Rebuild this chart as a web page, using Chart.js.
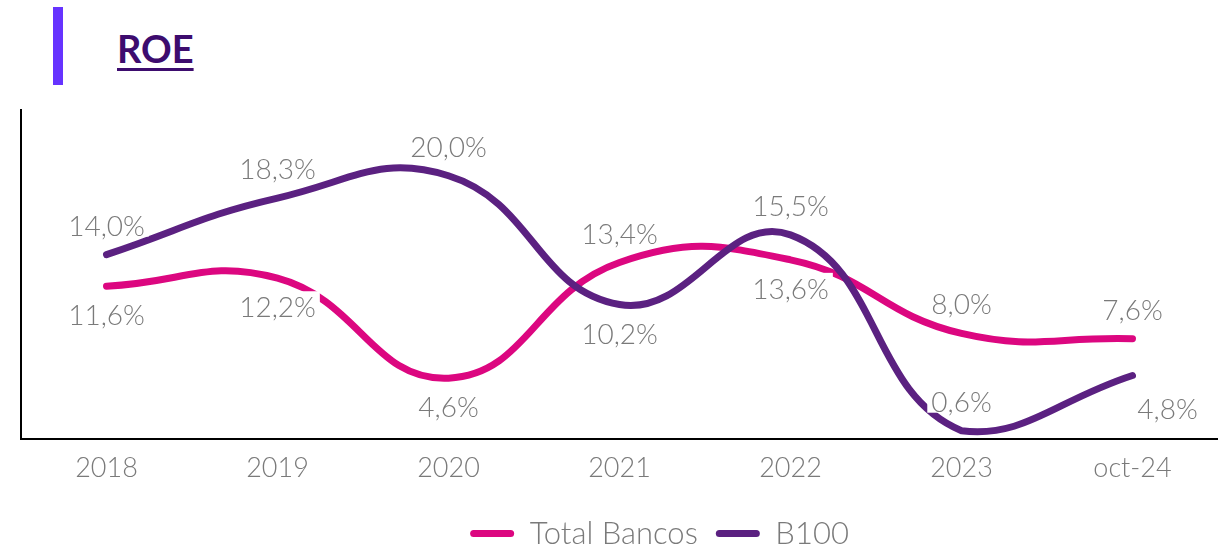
<!DOCTYPE html>
<html>
<head>
<meta charset="utf-8">
<script src="https://cdn.jsdelivr.net/npm/chart.js@4.4.1/dist/chart.umd.min.js"></script>
<style>
  html, body { margin: 0; padding: 0; background: #fff; }
  #wrap { position: relative; width: 1218px; height: 548px; overflow: hidden; }
  #bar { position: absolute; left: 53px; top: 7px; width: 10px; height: 78px; background: #6633FF; }
  #title { position: absolute; left: 117px; top: 29px; font-family: Lato, sans-serif; font-weight: 700;
           font-size: 38px; line-height: 38px; color: #3D0C6E; text-decoration: underline;
           text-decoration-thickness: 3px; text-underline-offset: 5px; }
  canvas { position: absolute; left: 0; top: 0; }
</style>
</head>
<body>
<div id="wrap">
  <div id="bar"></div>
  <div id="title">ROE</div>
  <canvas id="c" width="1218" height="548"></canvas>
</div>
<script>
// ---- data ----
const categories = ['2018', '2019', '2020', '2021', '2022', '2023', 'oct-24'];
const totalBancos = [11.6, 12.2, 4.6, 13.4, 13.6, 8.0, 7.6];
const b100 = [14.0, 18.3, 20.0, 10.2, 15.5, 0.6, 4.8];
// label placement per point
const totalBancosLabelPos = ['below', 'below', 'below', 'above', 'below', 'above', 'above'];
const b100LabelPos = ['above', 'above', 'above', 'below', 'above', 'above', 'belowRight'];
const seriesNames = ['Total Bancos', 'B100'];

const PINK = '#DC0780';
const PURPLE = '#5B2181';
const GREY = '#7A7A7A';
const LABEL_FONT = '300 28px Lato';

const labelPos = [totalBancosLabelPos, b100LabelPos];

const valueLabels = {
  id: 'valueLabels',
  afterDatasetDraw(chart, args) {
    const ds = chart.data.datasets[args.index];
    const positions = labelPos[args.index];
    const ctx = chart.ctx;
    ctx.save();
    ctx.font = LABEL_FONT;
    ctx.textAlign = 'center';
    ctx.textBaseline = 'middle';
    args.meta.data.forEach((pt, i) => {
      const txt = ds.data[i].toFixed(1).replace('.', ',') + '%';
      const pos = positions[i];
      let dx = 0, dy = pos === 'above' ? -29 : 29;
      if (pos === 'belowRight') { dx = 35; dy = 33; }
      const x = pt.x + dx, y = pt.y + dy;
      const w = ctx.measureText(txt).width;
      ctx.fillStyle = '#fff';
      ctx.fillRect(x - w / 2 - 4, y - 16, w + 8, 27);
      ctx.fillStyle = GREY;
      ctx.fillText(txt, x, y + 1);
    });
    ctx.restore();
  }
};

const legendShift = {
  id: 'legendShift',
  afterLayout(chart) {
    const lg = chart.legend;
    if (lg) { lg.left += 44; lg.right += 44; lg.top += 11; lg.bottom += 11; }
  }
};

new Chart(document.getElementById('c'), {
  type: 'line',
  data: {
    labels: categories,
    datasets: [
      { label: seriesNames[0], data: totalBancos, borderColor: PINK, backgroundColor: PINK,
        borderWidth: 7, pointRadius: 0, tension: 0.45, borderCapStyle: 'round', order: 1 },
      { label: seriesNames[1], data: b100, borderColor: PURPLE, backgroundColor: PURPLE,
        borderWidth: 7, pointRadius: 0, tension: 0.45, borderCapStyle: 'round', order: 0 }
    ]
  },
  options: {
    responsive: false,
    animation: false,
    devicePixelRatio: 1,
    layout: { padding: { left: 13, right: 0, top: 110, bottom: 0 } },
    scales: {
      x: {
        offset: true,
        grid: { display: false },
        border: { display: true, color: '#000', width: 2 },
        ticks: { color: GREY, font: { family: 'Lato', weight: 300, size: 27 }, padding: 5 }
      },
      y: {
        min: 0, max: 25,
        grid: { display: false },
        border: { display: true, color: '#000', width: 2 },
        ticks: { display: false }
      }
    },
    plugins: {
      tooltip: { enabled: false },
      legend: {
        position: 'bottom',
        labels: {
          boxWidth: 44, boxHeight: 7, padding: 18,
          useBorderRadius: true, borderRadius: 3.5,
          color: GREY,
          font: { family: 'Lato', weight: 300, size: 31 },
          generateLabels(chart) {
            return chart.data.datasets.map((ds, i) => ({
              text: ds.label, fillStyle: ds.borderColor, strokeStyle: ds.borderColor,
              lineWidth: 0, hidden: false, datasetIndex: i, fontColor: GREY, borderRadius: 3.5
            }));
          }
        }
      }
    }
  },
  plugins: [valueLabels, legendShift]
});
</script>
</body>
</html>
